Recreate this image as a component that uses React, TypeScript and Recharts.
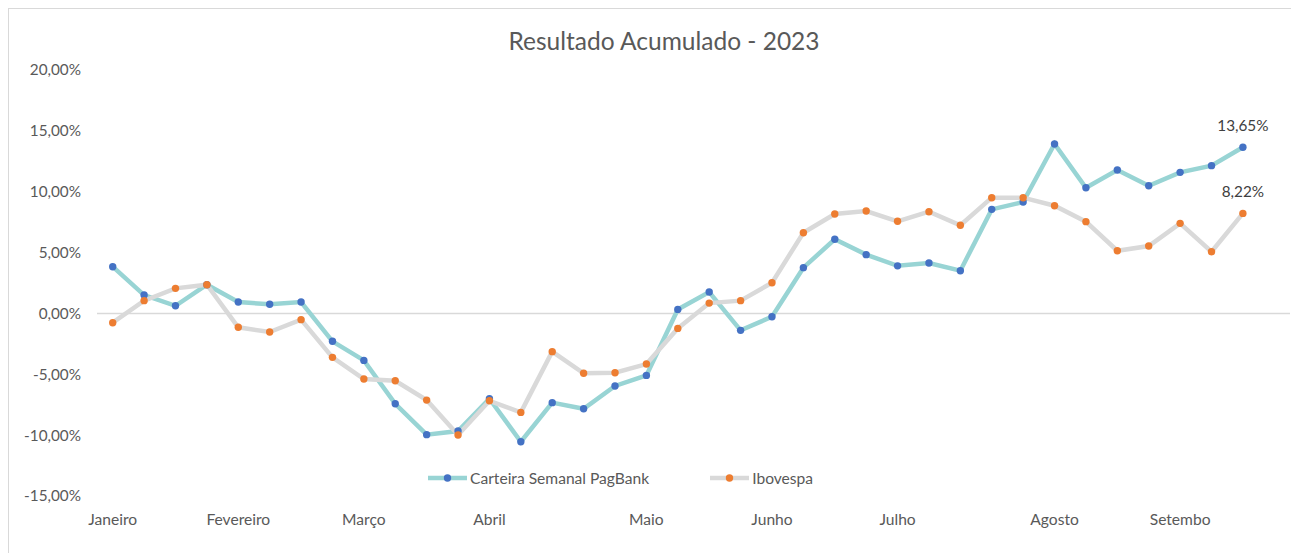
import React from 'react';
import { LineChart, Line, XAxis, YAxis, ReferenceLine } from 'recharts';

// rótulos do eixo X - uma posição por semana, mês só na primeira semana
const semanas: string[] = [
  'Janeiro', '', '', '', 'Fevereiro', '', '', '', 'Março', '', '', '', 'Abril', '', '', '', '',
  'Maio', '', '', '', 'Junho', '', '', '', 'Julho', '', '', '', '', 'Agosto', '', '', '', 'Setembo', '', '', '',
];

// resultado acumulado (%)
const carteira: (number | null)[] = [
  3.84, 1.51, 0.63, 2.36, 0.94, 0.75, 0.94, -2.29, -3.86, -7.42, -9.96, -9.66, -7.0,
  -10.54, -7.33, -7.83, -5.96, -5.09, 0.33, 1.76, -1.39, -0.27, 3.76, 6.09, 4.83, 3.91,
  4.14, 3.51, 8.55, 9.15, 13.92, 10.33, 11.78, 10.49, 11.59, 12.14, 13.65, null,
];

const ibovespa: (number | null)[] = [
  -0.76, 1.05, 2.06, 2.36, -1.14, -1.53, -0.51, -3.61, -5.39, -5.53, -7.12, -9.99, -7.18,
  -8.13, -3.14, -4.92, -4.87, -4.16, -1.23, 0.85, 1.05, 2.52, 6.63, 8.17, 8.41, 7.57,
  8.36, 7.24, 9.51, 9.51, 8.85, 7.54, 5.15, 5.54, 7.4, 5.07, 8.22, null,
];

const yTicks = [-15, -10, -5, 0, 5, 10, 15, 20];

const data = semanas.map((label, i) => ({
  label,
  carteira: carteira[i],
  ibovespa: ibovespa[i],
}));

const series = [
  { key: 'carteira', name: 'Carteira Semanal PagBank', line: '#98D4D4', dot: '#4472C4' },
  { key: 'ibovespa', name: 'Ibovespa', line: '#D9D9D9', dot: '#ED7D31' },
];

const lastIndex = 36;
const FONT = 'Lato, "Open Sans", sans-serif';
const TXT = 15.3;

const fmtPct = (v: number) => `${v.toFixed(2).replace('.', ',')}%`;

const LastLabel = (props: any) => {
  const { x, y, value, index } = props;
  if (index !== lastIndex || value == null) return null;
  return (
    <text x={x} y={y - 16} textAnchor="middle" fontSize={TXT} fill="#404040" fontFamily={FONT}>
      {fmtPct(value)}
    </text>
  );
};

// legenda desenhada à parte para não roubar espaço do gráfico
const ChartLegend = () => (
  <div style={{
    position: 'absolute',
    left: 418,
    top: 460,
    display: 'flex',
    alignItems: 'center',
    gap: 60,
    fontFamily: FONT,
    fontSize: 15.6,
    color: '#595959',
  }}>
    {series.map((s) => (
      <div key={s.key} style={{ display: 'flex', alignItems: 'center' }}>
        <svg width={41} height={10} style={{ marginRight: 2 }}>
          <line x1={1} y1={5} x2={40} y2={5} stroke={s.line} strokeWidth={4.5} />
          <circle cx={20.5} cy={5} r={3.7} fill={s.dot} />
        </svg>
        <span>{s.name}</span>
      </div>
    ))}
  </div>
);

export default function App() {
  return (
    <div style={{ width: 1291, height: 545, overflow: 'hidden' }}>
      <div style={{ position: 'relative', width: 1320, height: 560, border: '1px solid #d9d9d9', background: '#fff' }}>
        <div style={{
          position: 'absolute',
          left: 655,
          top: 17,
          transform: 'translateX(-50%)',
          fontFamily: FONT,
          fontSize: 24.5,
          lineHeight: '30px',
          color: '#595959',
          whiteSpace: 'nowrap',
        }}>
          Resultado Acumulado - 2023
        </div>
        <LineChart width={1290} height={544} data={data} margin={{ top: 61, right: 9, bottom: 27, left: 0 }}>
          <ReferenceLine y={0} stroke="#d9d9d9" strokeWidth={1.5} />
          <XAxis
            dataKey="label"
            interval={0}
            axisLine={false}
            tickLine={false}
            tickSize={0}
            tickMargin={18}
            height={30}
            padding={{ left: 15.7, right: 15.7 }}
            tick={{ fontSize: 15.6, fill: '#595959', fontFamily: FONT }}
          />
          <YAxis
            type="number"
            domain={[-15, 20]}
            ticks={yTicks}
            width={88}
            axisLine={false}
            tickLine={false}
            tickSize={0}
            tickMargin={16}
            tickFormatter={fmtPct}
            tick={{ fontSize: TXT, fill: '#595959', fontFamily: FONT }}
          />
          {series.map((s) => (
            <Line
              key={s.key}
              type="linear"
              dataKey={s.key}
              name={s.name}
              stroke={s.line}
              strokeWidth={4.5}
              dot={{ r: 3.7, fill: s.dot, stroke: 'none' }}
              activeDot={false}
              label={<LastLabel />}
              isAnimationActive={false}
            />
          ))}
        </LineChart>
        <ChartLegend />
      </div>
    </div>
  );
}
